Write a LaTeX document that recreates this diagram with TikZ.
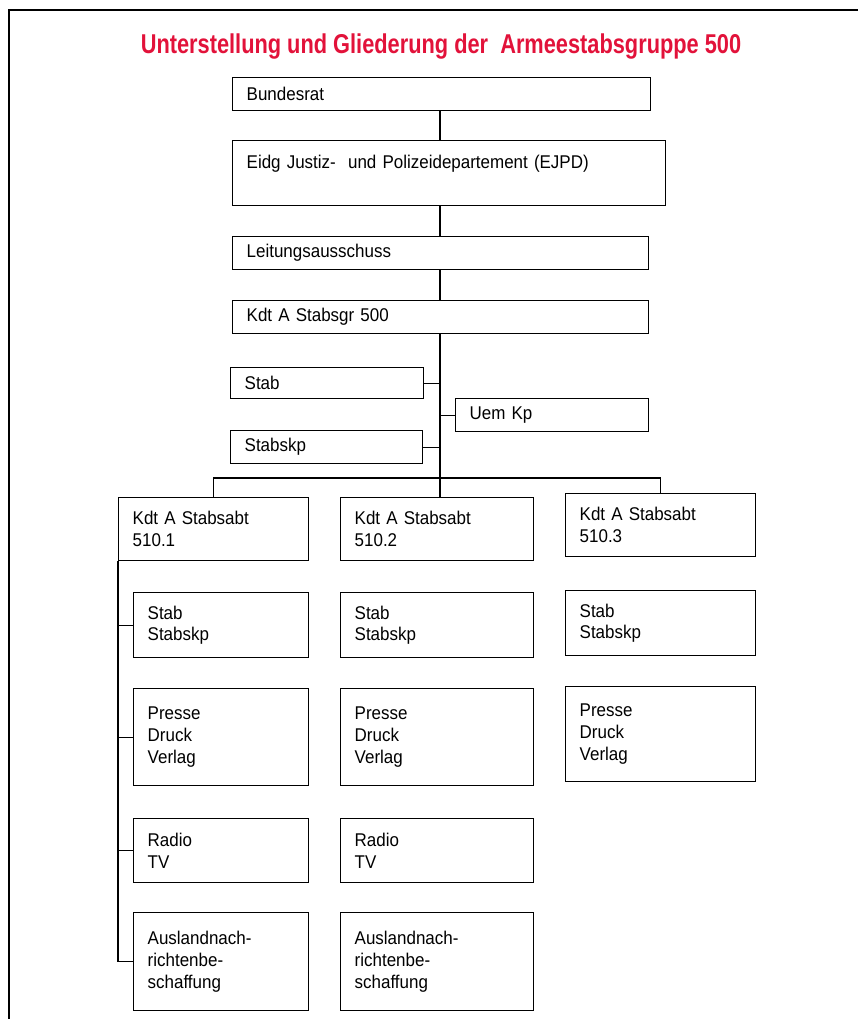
\documentclass[tikz,border=0pt]{standalone}
\usepackage{fontspec}
\setmainfont{Liberation Sans}[FakeStretch=0.92]
\newfontfamily\headfont{Liberation Sans}[FakeStretch=0.8]
\usepackage{xcolor}

\definecolor{titlered}{RGB}{226,18,58}

\tikzset{
    unit/.style 2 args={draw, line width=0.8pt, fill=white, anchor=north west,
        align=left, inner xsep=0.28cm, inner ysep=0.08cm,
        text width={(#1-28)*0.02cm}, minimum height={#2*0.02cm},
        font=\fontsize{10.5}{12.5}\selectfont},
    link/.style={line width=0.8pt},
    heading/.style={anchor=base, text=titlered,
        font=\headfont\fontsize{15.5}{18}\selectfont\bfseries},
}

\begin{document}
\begin{tikzpicture}[x=0.02cm, y=-0.02cm]

    \useasboundingbox (0,0) rectangle (858,1019);
    \draw[line width=1.1pt] (858,10) -- (9,10) -- (9,1019);

    \node[heading] (title) at (441,53) {Unterstellung und Gliederung der \ Armeestabsgruppe 500};

    \node[unit={418}{33}] (bundesrat) at (232,77) {Bundesrat};
    \node[unit={433}{65}, text depth=0.45cm] (ejpd) at (232,140) {Eidg Justiz- \ und Polizeidepartement (EJPD)};
    \node[unit={416}{33}] (leitung) at (232,236) {Leitungsausschuss};
    \node[unit={416}{33}] (kdt) at (232,300) {Kdt A Stabsgr 500};

    \node[unit={193}{31}] (stab) at (230,367) {Stab};
    \node[unit={193}{33}] (uem) at (455,398) {Uem Kp};
    \node[unit={192}{33}] (stabskp) at (230,430) {Stabskp};

    \node[unit={190}{63}] (abt1) at (118,497) {Kdt A Stabsabt\\510.1};
    \node[unit={193}{63}] (abt2) at (340,497) {Kdt A Stabsabt\\510.2};
    \node[unit={190}{63}] (abt3) at (565,493) {Kdt A Stabsabt\\510.3};

    \node[unit={175}{65}] (stab1) at (133,592) {Stab\\Stabskp};
    \node[unit={175}{97}] (presse1) at (133,688) {Presse\\Druck\\Verlag};
    \node[unit={175}{64}] (radio1) at (133,818) {Radio\\TV};
    \node[unit={175}{98}] (ausland1) at (133,912) {Auslandnach-\\richtenbe-\\schaffung};

    \node[unit={193}{65}] (stab2) at (340,592) {Stab\\Stabskp};
    \node[unit={193}{97}] (presse2) at (340,688) {Presse\\Druck\\Verlag};
    \node[unit={193}{64}] (radio2) at (340,818) {Radio\\TV};
    \node[unit={193}{98}] (ausland2) at (340,912) {Auslandnach-\\richtenbe-\\schaffung};

    \node[unit={190}{65}] (stab3) at (565,590) {Stab\\Stabskp};
    \node[unit={190}{95}] (presse3) at (565,686) {Presse\\Druck\\Verlag};

    \coordinate (split) at (440,478);

    \draw[link] (bundesrat.south -| split) -- (ejpd.north -| split);
    \draw[link] (ejpd.south -| split) -- (leitung.north -| split);
    \draw[link] (leitung.south -| split) -- (kdt.north -| split);
    \draw[link] (kdt.south -| split) -- (split);
    \draw[link] (stab.east) -- (stab.east -| split);
    \draw[link] (uem.west) -- (uem.west -| split);
    \draw[link] (stabskp.east) -- (stabskp.east -| split);

    \draw[link] (abt1.north) |- (split) -| (abt3.north);
    \draw[link] (split) -- (abt2.north -| split);

    \draw[link] (abt1.south west) |- (ausland1.west);
    \draw[link] (stab1.west -| abt1.west) -- (stab1.west);
    \draw[link] (presse1.west -| abt1.west) -- (presse1.west);
    \draw[link] (radio1.west -| abt1.west) -- (radio1.west);
\end{tikzpicture}
\end{document}
